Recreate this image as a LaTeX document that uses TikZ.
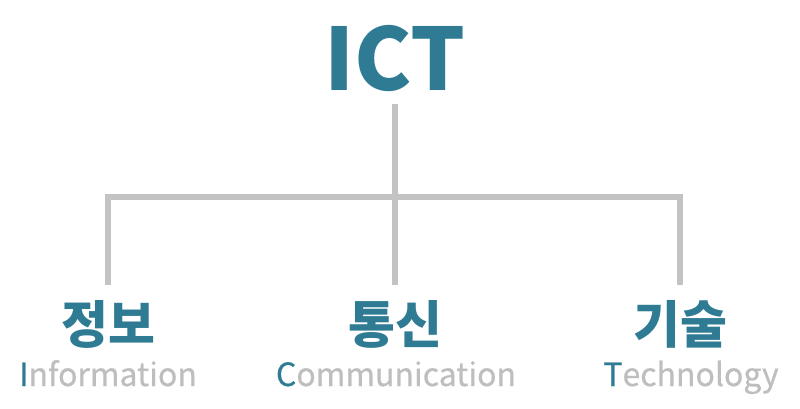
\documentclass[tikz,border=0pt]{standalone}
\usepackage{fontspec}
\setmainfont{Noto Sans CJK KR}
\newfontfamily\engfont[FakeBold=0.6]{Noto Sans CJK KR}
\usetikzlibrary{calc}
\definecolor{ictteal}{RGB}{47,123,148}
\definecolor{linegray}{RGB}{195,195,195}
\definecolor{textgray}{RGB}{190,190,190}
\newcommand{\Lead}[1]{\textcolor{ictteal}{#1}}
\tikzset{Title/.style={
    inner sep=0pt,
    inner ysep=12pt,
    anchor=south,
    text=ictteal,
    font=\fontsize{86}{86}\selectfont\bfseries,
    }
}
\tikzset{Kor/.style={
    inner sep=0pt,
    inner ysep=15pt,
    anchor=north,
    text=ictteal,
    font=\fontsize{51}{51}\selectfont\bfseries,
    },
    Eng/.style={
    inner sep=0pt,
    anchor=base,
    text=textgray,
    font=\fontsize{32}{32}\engfont,
    }
}

\begin{document}
\begin{tikzpicture}[x=1pt,y=-1pt,
    branch/.style={draw=linegray, line width=6pt},
]
\useasboundingbox (0,0) rectangle (800,408);
\node [Title] (ict) at (395,104) {ICT};
\coordinate (hub) at (395,197);
% the three branches
\node [Kor] (jeongbo) at (108,285) {정보};
\node [Kor] (tongsin) at (395,285) {통신};
\node [Kor] (gisul) at (680,285) {기술};
\node [Eng] (info) at (108,386) {\Lead{I}nformation};
\node [Eng] (comm) at (396,386) {\Lead{C}ommunication};
\node [Eng] (tech) at (691,386) {\Lead{T}echnology};
\draw [branch] (ict.south) -- (tongsin.north);
\draw [branch] (jeongbo.north) |- (hub) -| (gisul.north);
\end{tikzpicture}
\end{document}
